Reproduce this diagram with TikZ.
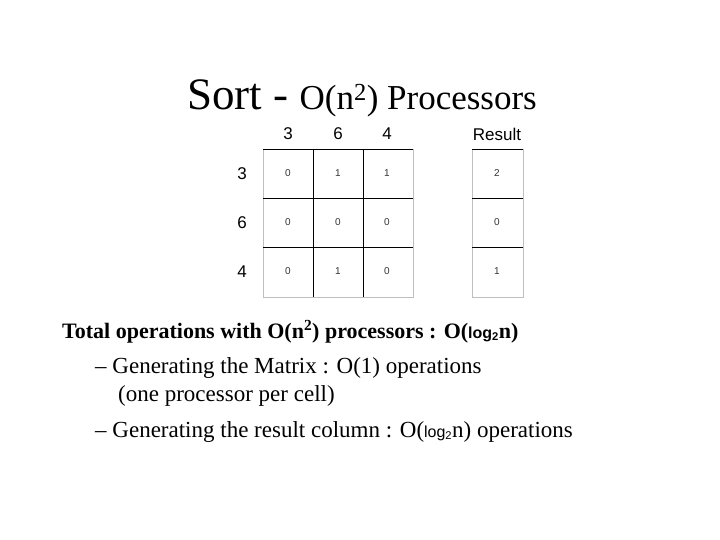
\documentclass[tikz,border=0pt]{standalone}
\usepackage{fontspec}
\setmainfont{Liberation Serif}
\setsansfont{Liberation Sans}
\usetikzlibrary{positioning}
\tikzset{cell/.style={font=\sffamily\fontsize{10}{12}\selectfont, text=black!80},
         head/.style={font=\sffamily\fontsize{17}{19}\selectfont},
         body/.style={anchor=base west, font=\fontsize{23}{26}\selectfont, inner sep=0pt}}
\newcommand{\lgtwo}{{\sffamily\fontsize{16}{17}\selectfont log\textsubscript{2}}}
\begin{document}
\begin{tikzpicture}[x=1pt,y=-1pt]
  \useasboundingbox (0,0) rectangle (720,540);
  % title
  \node[inner sep=0pt, anchor=base] (title) at (362,110)
    {\fontsize{45}{47}\selectfont Sort - \fontsize{35}{37}\selectfont O(n\textsuperscript{2}) Processors};
  % grid
  \draw[black!25] (263,149) -- (263,297) -- (413,297) -- (413,149);
  \draw[black!25] (472,149) -- (472,297) -- (523,297) -- (523,149);
  \foreach \y in {149,198,247} {
    \draw[thick] (263,\y) -- (413,\y);
    \draw[thick] (472,\y) -- (523,\y);
  }
  \foreach \x in {313,363} \draw (\x,149) -- (\x,297);
  % headers
  \node[head] (c1) at (288,134) {3};
  \node[head] (c2) at (338,134) {6};
  \node[head] (c3) at (387,134) {4};
  \node[head] (res) at (497,134) {Result};
  \node[head] (r1) at (242,174) {3};
  \node[head] (r2) at (242,223) {6};
  \node[head] (r3) at (242,272) {4};
  % values
  \foreach \a/\b/\c/\r [count=\i] in {0/1/1/2, 0/0/0/0, 0/1/0/1} {
    \pgfmathsetmacro{\yy}{173.5+49*(\i-1)}
    \node[cell] (m\i a) at (288,\yy) {\a};
    \node[cell] (m\i b) at (338,\yy) {\b};
    \node[cell] (m\i c) at (387,\yy) {\c};
    \node[cell] (m\i r) at (497,\yy) {\r};
  }
  % text
  \node[body, font=\bfseries\fontsize{22}{24}\selectfont] (t1) at (62,338)
    {Total operations with O(n\textsuperscript{2}) processors : O(\lgtwo n)};
  \node[body] (t2) at (95,373) {– Generating the Matrix : O(1) operations};
  \node[body] (t3) at (118,401) {(one processor per cell)};
  \node[body] (t4) at (95,437) {– Generating the result column : O(\lgtwo n) operations};
\end{tikzpicture}
\end{document}
